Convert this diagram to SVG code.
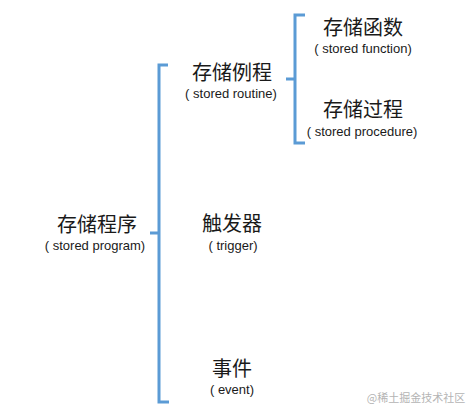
<svg xmlns="http://www.w3.org/2000/svg" width="471" height="415" viewBox="0 0 471 415">
<style>
.br{fill:none;stroke:#5b9bd5;stroke-width:3;stroke-linejoin:miter}
.cn{font-family:"Noto Sans CJK SC","Liberation Sans",sans-serif;font-size:20px;fill:#1a1a1a;text-anchor:middle}
.en{font-family:"Liberation Sans","Noto Sans CJK SC",sans-serif;font-size:13px;fill:#1a1a1a;text-anchor:middle}
.wm{font-family:"Noto Sans CJK SC",sans-serif;font-size:11px;fill:#b4b4b4;text-anchor:middle}
</style>
<rect width="471" height="415" fill="#ffffff"/>
<g id="connectors">
<path class="br" d="M168,65 H159 V402 H169 M159,233 H150"/>
<path class="br" d="M305,15 H295 V143 H305 M295,79 H286"/>
</g>
<g id="program">
<text class="cn" x="97" y="232">存储程序</text>
<text class="en" x="95" y="250">( stored program)</text>
</g>
<g id="routine">
<text class="cn" x="232" y="80">存储例程</text>
<text class="en" x="231" y="98">( stored routine)</text>
</g>
<g id="function">
<text class="cn" x="363" y="35">存储函数</text>
<text class="en" x="363" y="53">( stored function)</text>
</g>
<g id="procedure">
<text class="cn" x="363" y="117">存储过程</text>
<text class="en" x="362" y="136">( stored procedure)</text>
</g>
<g id="trigger">
<text class="cn" x="232" y="231">触发器</text>
<text class="en" x="233" y="250">( trigger)</text>
</g>
<g id="event">
<text class="cn" x="232" y="376">事件</text>
<text class="en" x="232" y="394">( event)</text>
</g>
<text class="wm" x="416" y="402">@稀土掘金技术社区</text>
</svg>
